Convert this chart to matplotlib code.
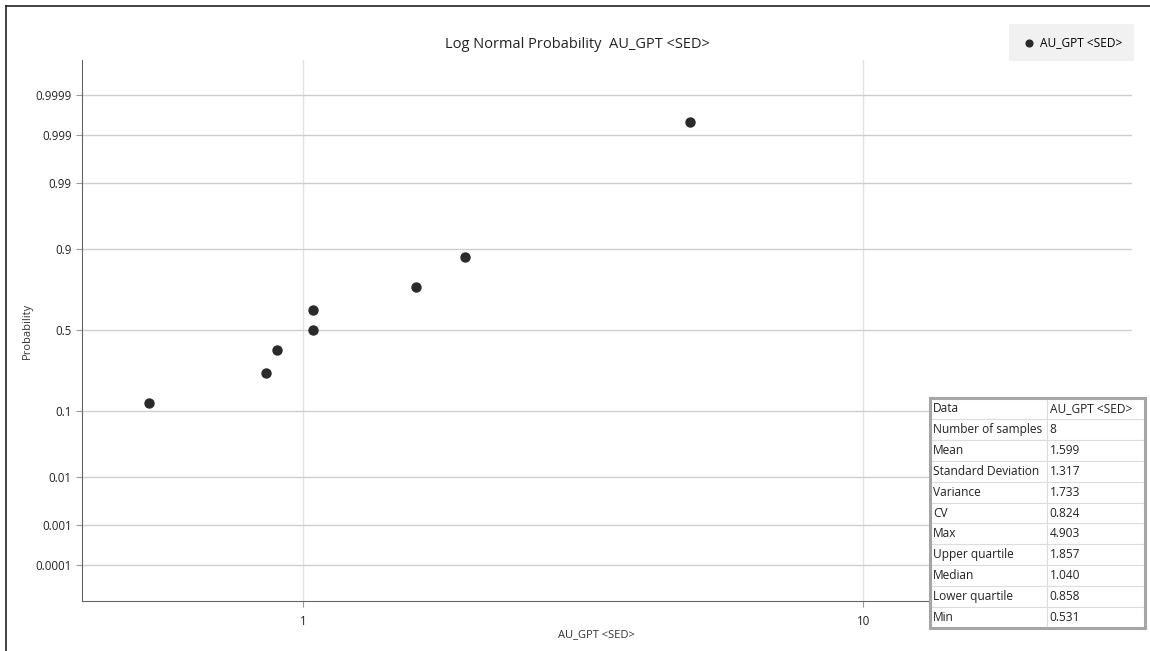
import matplotlib.pyplot as plt
import numpy as np
from statistics import NormalDist
from matplotlib.lines import Line2D

plt.rcParams["font.family"] = ["Open Sans", "DejaVu Sans"]

# data
au_gpt = [0.531, 0.858, 0.90, 1.04, 1.04, 1.59, 1.95, 4.903]
prob = [0.125, 0.25, 0.375, 0.5, 0.625, 0.75, 0.875, 0.9995]
prob_ticks = [0.0001, 0.001, 0.01, 0.1, 0.5, 0.9, 0.99, 0.999, 0.9999]
prob_labels = ["0.0001", "0.001", "0.01", "0.1", "0.5", "0.9", "0.99", "0.999", "0.9999"]
x_ticks = [1, 10]
x_labels = ["1", "10"]

stat_names = ["Data", "Number of samples", "Mean", "Standard Deviation", "Variance",
              "CV", "Max", "Upper quartile", "Median", "Lower quartile", "Min"]
stat_values = ["AU_GPT <SED>", "8", "1.599", "1.317", "1.733", "0.824",
               "4.903", "1.857", "1.040", "0.858", "0.531"]

nd = NormalDist()
_ppf = np.vectorize(lambda p: nd.inv_cdf(min(max(p, 1e-12), 1 - 1e-12)), otypes=[float])
_cdf = np.vectorize(lambda z: nd.cdf(z), otypes=[float])


def forward(p):
    return _ppf(np.asarray(p, dtype=float))


def inverse(z):
    return _cdf(np.asarray(z, dtype=float))


fig = plt.figure(figsize=(11.5, 6.51), dpi=100)
ax = fig.add_axes([0.0713, 0.0768, 0.913, 0.831])

ax.set_xscale("log")
ax.set_yscale("function", functions=(forward, inverse))
ax.set_xlim(0.403, 30.2)
ax.set_ylim(nd.cdf(-4.29), nd.cdf(4.27))

ax.scatter(au_gpt, prob, s=42, color="#2a2a2a", zorder=3, label="AU_GPT <SED>")

ax.set_yticks(prob_ticks)
ax.set_yticklabels(prob_labels)
ax.set_xticks(x_ticks)
ax.set_xticklabels(x_labels)
ax.xaxis.set_minor_locator(plt.NullLocator())
ax.yaxis.set_minor_locator(plt.NullLocator())
ax.tick_params(axis="both", labelsize=8.3, colors="#999999", labelcolor="#222222", length=4)
ax.tick_params(axis="x", pad=6)

ax.grid(axis="y", color="#cfcfcf", linewidth=1)
ax.grid(axis="x", color="#e2e2e2", linewidth=1)
ax.set_axisbelow(True)
for s in ["top", "right"]:
    ax.spines[s].set_visible(False)
for s in ["left", "bottom"]:
    ax.spines[s].set_color("#666666")

ax.set_ylabel("Probability", fontsize=8, color="#333333")
ax.yaxis.set_label_coords(-0.047, 0.5)
ax.set_xlabel("AU_GPT <SED>", fontsize=8, color="#333333")
ax.xaxis.set_label_coords(0.49, -0.052)
fig.text(0.502, 0.931, "Log Normal Probability  AU_GPT <SED>", ha="center", va="center",
         fontsize=10.5, color="#222222")

leg = fig.legend(loc="upper right", bbox_to_anchor=(0.986, 0.963), fontsize=8.6,
                 frameon=True, facecolor="#eeeeee", edgecolor="none", fancybox=False,
                 handletextpad=0.2, handlelength=1.4, borderpad=1.0, borderaxespad=0,
                 markerscale=0.75)

# border lines of the picture
fig.add_artist(Line2D([6 / 1150, 1], [1 - 6 / 651, 1 - 6 / 651], color="#222222", lw=1.2))
fig.add_artist(Line2D([6 / 1150, 6 / 1150], [0, 1 - 6 / 651], color="#222222", lw=1.2))

# statistics table
tax = fig.add_axes([0.8087, 0.0353, 0.187, 0.3533])
tax.axis("off")
cells = [[n, v] for n, v in zip(stat_names, stat_values)]
tbl = tax.table(cellText=cells, bbox=[0, 0, 1, 1], colWidths=[0.545, 0.455], cellLoc="left")
tbl.auto_set_font_size(False)
tbl.set_fontsize(8.6)
for (r, c), cell in tbl.get_celld().items():
    cell.set_edgecolor("#dddddd")
    cell.set_linewidth(0.8)
    cell.PAD = 0.025
    cell.get_text().set_color("#222222")
tax.add_patch(plt.Rectangle((0, 0), 1, 1, transform=tax.transAxes, fill=False,
                            edgecolor="#a5a5a5", linewidth=2.2, clip_on=False, zorder=5))

fig.savefig("out.png", dpi=100)
